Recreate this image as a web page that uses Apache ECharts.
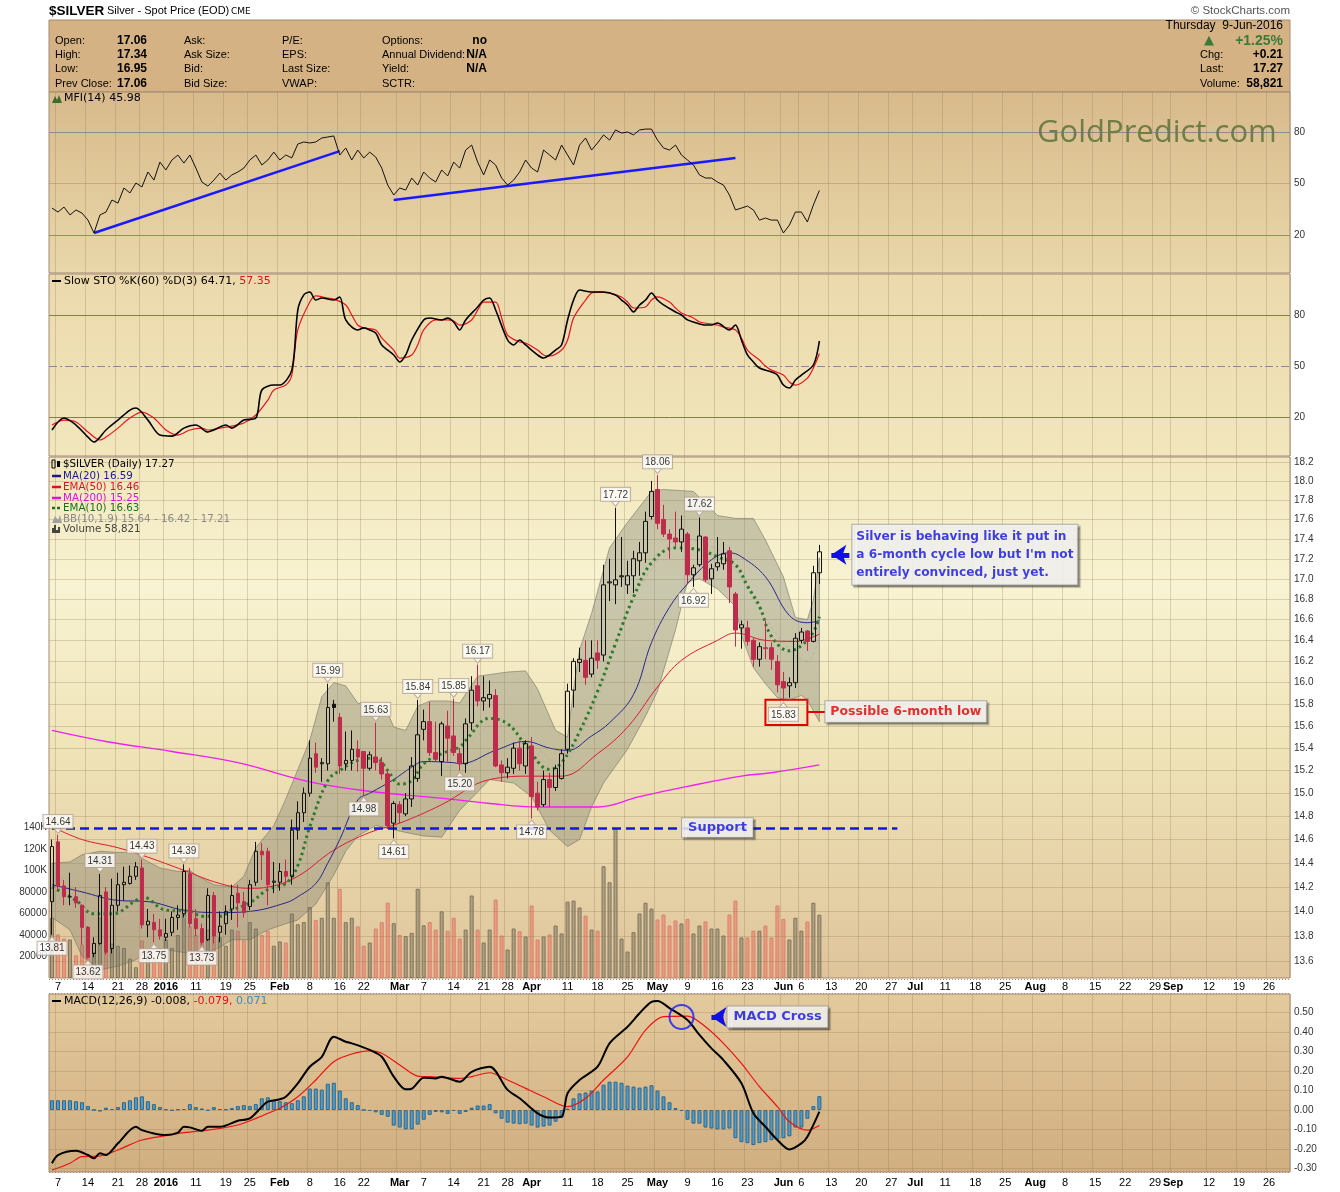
<!DOCTYPE html>
<html><head><meta charset="utf-8">
<script src="https://cdn.jsdelivr.net/npm/echarts@6/dist/echarts.min.js"></script>
<style>html,body{margin:0;padding:0;background:#fff}#c{width:1340px;height:1192px}</style>
</head><body><div id="c"></div>
<script>
// ================= DATA =================
const firstTradingDay = '2015-12-04';
const holidays = ['2015-12-25','2016-01-01','2016-01-18','2016-02-15','2016-03-25','2016-05-30','2016-07-04','2016-09-05'];
const slotCount = 207;
const tickLabels = [
 ['2015-12-07','7'],['2015-12-14','14'],['2015-12-21','21'],['2015-12-28','28'],['2016-01-04','2016',1],['2016-01-11','11'],['2016-01-19','19'],['2016-01-25','25'],
 ['2016-02-01','Feb',1],['2016-02-08','8'],['2016-02-16','16'],['2016-02-22','22'],['2016-03-01','Mar',1],['2016-03-07','7'],['2016-03-14','14'],['2016-03-21','21'],['2016-03-28','28'],
 ['2016-04-01','Apr',1],['2016-04-11','11'],['2016-04-18','18'],['2016-04-25','25'],['2016-05-02','May',1],['2016-05-09','9'],['2016-05-16','16'],['2016-05-23','23'],
 ['2016-06-01','Jun',1],['2016-06-06','6'],['2016-06-13','13'],['2016-06-20','20'],['2016-06-27','27'],['2016-07-01','Jul',1],['2016-07-11','11'],['2016-07-18','18'],['2016-07-25','25'],
 ['2016-08-01','Aug',1],['2016-08-08','8'],['2016-08-15','15'],['2016-08-22','22'],['2016-08-29','29'],['2016-09-01','Sep',1],['2016-09-12','12'],['2016-09-19','19'],['2016-09-26','26']
];
const priceTicks = [13.6,13.8,14.0,14.2,14.4,14.6,14.8,15.0,15.2,15.4,15.6,15.8,16.0,16.2,16.4,16.6,16.8,17.0,17.2,17.4,17.6,17.8,18.0,18.2];
const volumeTicks = [20000,40000,60000,80000,100000,120000,140000];
const macdTicks = [-0.3,-0.2,-0.1,0,0.1,0.2,0.3,0.4,0.5];
const oscTicks = [20,50,80];

// daily [open, high, low, close] from 2015-12-04 to 2016-06-09
const ohlc = [
[14.08,14.60,13.81,14.54],[14.58,14.64,14.17,14.21],[14.21,14.26,14.05,14.12],[14.12,14.32,14.05,14.12],[14.12,14.20,14.03,14.07],
[14.05,14.06,13.73,13.87],[13.87,13.88,13.62,13.63],[13.66,13.79,13.63,13.74],[13.74,14.31,13.73,14.13],[14.16,14.20,13.65,13.67],
[13.70,14.27,13.66,14.05],[14.05,14.32,14.00,14.22],[14.22,14.37,14.09,14.24],[14.23,14.38,14.22,14.29],[14.29,14.41,14.26,14.37],
[14.36,14.43,13.86,13.89],[13.89,14.02,13.79,13.92],[13.91,13.98,13.75,13.85],[13.85,13.94,13.77,13.80],[13.79,13.94,13.76,13.82],
[13.83,14.00,13.80,13.95],[13.95,14.05,13.85,13.97],[13.98,14.39,13.95,14.33],[14.31,14.36,13.87,13.90],[13.94,14.02,13.80,13.86],
[13.86,13.90,13.73,13.75],[13.77,14.19,13.76,14.13],[14.13,14.16,13.74,13.80],[13.83,14.00,13.75,13.88],[13.90,14.05,13.81,14.00],
[14.02,14.22,13.93,14.13],[14.15,14.22,13.87,14.07],[14.08,14.16,13.95,13.99],[14.04,14.26,14.01,14.22],[14.24,14.58,14.21,14.50],
[14.50,14.57,14.26,14.47],[14.50,14.53,14.05,14.22],[14.24,14.41,14.15,14.25],[14.24,14.40,14.17,14.33],[14.33,14.43,14.22,14.29],
[14.29,14.77,14.22,14.68],[14.68,14.93,14.60,14.83],[14.83,15.05,14.75,15.00],[15.00,15.47,14.97,15.31],[15.35,15.45,15.18,15.23],
[15.26,15.31,15.10,15.27],[15.26,15.99,15.20,15.77],[15.80,15.84,15.64,15.77],[15.68,15.72,15.17,15.24],[15.26,15.55,15.20,15.29],
[15.29,15.56,15.20,15.39],[15.39,15.47,15.19,15.32],[15.37,15.37,14.98,15.22],[15.22,15.37,15.20,15.34],[15.32,15.63,15.20,15.27],
[15.27,15.32,15.12,15.17],[15.17,15.20,14.69,14.72],[14.74,14.93,14.61,14.91],[14.90,14.93,14.74,14.83],[14.82,15.00,14.80,14.95],
[14.95,15.32,14.88,15.24],[15.13,15.84,15.10,15.52],[15.57,15.75,15.47,15.64],[15.64,15.82,15.33,15.36],[15.36,15.64,15.28,15.30],
[15.28,15.64,15.15,15.62],[15.60,15.74,15.28,15.49],[15.51,15.85,15.33,15.36],[15.35,15.40,15.20,15.26],[15.26,15.67,15.18,15.62],
[15.63,16.06,15.56,15.93],[15.97,16.17,15.78,15.83],[15.83,16.06,15.74,15.86],[15.85,16.02,15.77,15.89],[15.88,15.94,15.23,15.24],
[15.25,15.29,15.10,15.18],[15.18,15.31,15.13,15.23],[15.22,15.45,15.17,15.40],[15.40,15.47,15.20,15.26],[15.24,15.47,15.17,15.44],
[15.42,15.50,14.78,14.97],[15.00,15.10,14.85,14.88],[14.90,15.20,14.88,15.12],[15.12,15.18,14.88,15.05],[15.05,15.25,15.02,15.22],
[15.13,15.39,15.12,15.35],[15.39,15.99,15.35,15.92],[15.93,16.23,15.77,16.20],[16.19,16.33,16.10,16.22],[16.21,16.40,15.98,16.05],
[16.08,16.40,16.05,16.23],[16.28,16.40,16.13,16.21],[16.26,17.14,16.20,16.94],[16.96,17.20,16.78,16.97],[16.94,17.72,16.75,16.99],
[17.02,17.42,16.92,17.03],[16.94,17.18,16.85,17.03],[17.03,17.28,16.86,17.20],[17.18,17.37,17.03,17.26],[17.26,17.68,17.16,17.58],
[17.63,18.00,17.60,17.89],[17.91,18.06,17.50,17.56],[17.60,17.75,17.42,17.45],[17.45,17.50,17.20,17.40],[17.41,17.68,17.33,17.37],
[17.37,17.64,17.27,17.50],[17.45,17.47,16.95,17.04],[17.04,17.14,16.92,17.11],[17.14,17.62,17.12,17.43],[17.42,17.43,16.97,16.99],
[17.00,17.15,16.85,17.10],[17.12,17.42,17.08,17.16],[17.15,17.37,17.09,17.25],[17.28,17.32,16.76,16.92],[16.85,16.87,16.34,16.50],
[16.52,16.59,16.32,16.55],[16.52,16.59,16.35,16.39],[16.40,16.42,16.15,16.22],[16.22,16.38,16.15,16.34],[16.32,16.59,16.22,16.33],
[16.33,16.38,16.12,16.22],[16.20,16.26,15.91,15.98],[16.01,16.10,15.83,15.95],[15.97,16.05,15.86,16.00],[16.00,16.47,15.95,16.42],
[16.40,16.52,16.37,16.48],[16.49,16.50,16.30,16.39],[16.39,17.13,16.38,17.06],[17.06,17.34,16.95,17.27]
];
const volume = [
56000,40500,36700,35800,21000,31000,48000,24000,56000,42000,32000,30000,28000,18000,10000,35000,26000,18000,16000,36000,
28000,40000,60000,48000,40000,34000,45000,48000,38000,30000,45000,44000,35000,52000,46000,40000,44000,30000,34000,33000,
60000,50000,52000,66000,54000,56000,89000,56000,83000,52000,56000,48000,30000,33000,46000,52000,70000,51000,40000,39000,
42000,83000,49000,52000,45000,62000,44000,56000,36700,45000,76700,45000,33000,45000,73000,39500,26500,46000,43500,38600,
67400,35800,38600,40500,48800,41400,71000,72000,65600,58000,45000,44000,104000,89000,139000,36700,24600,42600,60000,70000,
64600,54400,59000,48800,53500,50700,55000,41400,48800,52600,46000,46000,39500,59000,72000,37700,37700,44000,44000,48800,
37700,67400,55000,35800,56000,44000,52600,70000,58821
];
const mfi = [
35.7,33.4,36.3,31.7,34.6,32.8,28.7,21.2,31.7,33.4,40.4,38.6,47.4,44.5,50.3,48.0,56.7,52.0,62.5,57.9,
63.7,66.6,61.9,66.6,59.0,50.9,48.5,52.0,56.1,52.0,55.0,56.7,59.0,63.7,66.6,60.8,63.7,68.3,63.7,66.6,
64.9,73.0,74.2,73.6,74.2,76.5,77.1,77.7,66.6,70.7,63.7,69.5,64.9,68.3,65.4,59.0,49.1,43.3,47.4,46.2,
53.2,49.1,56.7,53.2,50.9,57.9,54.4,62.5,59.0,69.5,72.4,62.5,55.0,63.7,60.8,53.2,49.1,52.0,56.7,63.7,
59.0,56.7,69.5,66.6,63.7,72.4,66.6,60.8,72.4,76.5,69.5,73.6,78.3,75.3,81.2,79.4,80.0,78.3,81.2,81.7,
81.7,75.3,70.7,69.5,72.4,66.6,63.7,60.8,55.0,53.2,53.2,50.9,49.1,43.3,34.6,35.7,36.9,34.6,28.7,29.9,
28.7,28.7,21.2,25.8,33.4,33.4,27.6,37.5,45.98
];
// [trading-day index, value]
const stoK = [[0,12.4],[2,19.4],[4,15.3],[6,8.2],[7,5.3],[9,12.4],[11,18.2],[13,24.1],[14,25.3],[16,18.2],[18,9.4],[20,8.8],[22,13.5],[24,15.3],[26,11.2],[27,12.4],[29,15.3],[30,13.5],[32,18.2],[34,19.4],[35,35.9],[37,38.8],[38,38.8],[40,47.6],[41,82.9],[42,91.8],[43,93.5],[44,88.8],[45,90.0],[47,88.8],[48,90.6],[49,77.1],[51,71.2],[52,72.4],[53,71.2],[54,69.4],[55,62.4],[57,56.5],[58,52.4],[59,56.5],[60,65.3],[62,77.1],[63,78.2],[65,77.1],[66,78.2],[67,75.9],[68,71.2],[69,77.1],[71,84.7],[72,88.8],[73,90.0],[74,82.9],[76,65.3],[77,62.4],[78,65.3],[79,62.4],[81,56.5],[82,54.7],[83,56.5],[84,59.4],[85,62.4],[86,77.1],[87,88.8],[88,94.7],[90,93.5],[91,93.5],[92,93.5],[94,91.8],[95,88.8],[96,85.9],[97,81.8],[98,85.9],[99,88.8],[100,92.9],[101,88.8],[102,85.9],[104,81.8],[105,80.0],[106,77.1],[107,75.9],[109,74.1],[110,74.1],[111,75.3],[113,71.2],[114,74.1],[115,65.3],[116,56.5],[117,52.4],[118,48.8],[120,46.5],[121,44.7],[122,38.8],[123,37.1],[124,41.8],[125,44.7],[127,50.6],[128,64.71]];
const stoD = [[0,15.3],[2,18.2],[4,17.1],[6,11.2],[8,6.5],[9,8.2],[11,13.5],[13,19.4],[15,22.9],[17,19.4],[19,12.4],[21,9.4],[23,12.4],[25,13.5],[26,12.4],[28,13.5],[30,14.7],[32,16.5],[34,21.2],[36,30.0],[37,35.9],[39,38.8],[40,44.7],[41,71.2],[43,87.6],[44,91.2],[46,90.0],[47,89.4],[49,85.9],[50,80.0],[51,74.1],[52,72.4],[54,71.2],[55,66.5],[57,59.4],[58,54.7],[60,56.5],[61,62.4],[62,71.2],[64,77.1],[66,77.1],[67,76.5],[68,74.1],[70,77.1],[71,82.9],[72,87.6],[74,87.6],[75,78.2],[76,68.2],[78,64.1],[79,63.5],[81,59.4],[82,56.5],[83,55.9],[85,59.4],[86,65.3],[87,78.2],[89,88.8],[90,92.9],[91,93.5],[93,92.9],[95,90.6],[96,87.6],[97,84.1],[99,84.7],[100,88.8],[101,90.6],[103,87.6],[104,84.1],[105,81.2],[107,78.2],[108,75.9],[110,74.7],[111,74.1],[112,72.9],[114,71.2],[115,66.5],[116,59.4],[118,53.5],[119,50.0],[120,47.6],[122,44.7],[123,40.6],[124,38.8],[126,42.9],[127,48.8],[128,57.35]];
const ma200 = [[0,15.56],[9,15.46],[20,15.37],[31,15.27],[43,15.10],[54,15.01],[62,14.97],[68,14.94],[73,14.91],[81,14.88],[88,14.88],[91,14.88],[98,14.97],[106,15.06],[115,15.15],[120,15.18],[128,15.25]];
const ema50 = [[0,14.71],[5,14.60],[11,14.53],[16,14.45],[22,14.34],[28,14.23],[33,14.19],[36,14.20],[41,14.29],[47,14.51],[53,14.66],[58,14.74],[65,14.90],[73,15.12],[80,15.15],[85,15.15],[91,15.35],[96,15.59],[101,15.96],[105,16.21],[111,16.40],[114,16.47],[119,16.40],[124,16.39],[128,16.46]];
const ma20 = [[0,14.22],[5,14.16],[11,14.09],[16,14.08],[22,14.01],[28,13.99],[33,14.00],[39,14.07],[41,14.12],[44,14.23],[46,14.40],[48,14.60],[51,14.94],[53,15.00],[57,15.12],[60,15.23],[62,15.28],[67,15.27],[68,15.26],[74,15.38],[79,15.46],[83,15.40],[86,15.38],[90,15.51],[93,15.63],[97,15.89],[100,16.38],[103,16.72],[106,16.95],[110,17.19],[113,17.26],[115,17.22],[119,17.02],[123,16.64],[126,16.57],[128,16.59]];
const ema10 = [[0,14.20],[4,14.09],[7,13.98],[10,13.98],[14,14.09],[15,14.12],[19,14.01],[23,14.00],[25,13.96],[28,13.96],[30,14.01],[33,14.07],[36,14.18],[39,14.23],[41,14.38],[43,14.71],[46,15.11],[48,15.20],[51,15.29],[54,15.31],[56,15.20],[58,15.08],[60,15.11],[62,15.26],[65,15.35],[68,15.41],[69,15.47],[73,15.67],[76,15.62],[79,15.43],[83,15.21],[85,15.27],[88,15.55],[91,15.92],[94,16.37],[97,16.82],[100,17.16],[104,17.31],[108,17.29],[111,17.22],[114,17.14],[116,16.93],[118,16.73],[120,16.44],[123,16.30],[125,16.35],[127,16.48],[128,16.63]];
const bbUpper = [[0,14.40],[3,14.41],[5,14.47],[8,14.50],[11,14.49],[14,14.49],[15,14.44],[18,14.36],[21,14.33],[23,14.34],[24,14.30],[27,14.22],[30,14.20],[32,14.29],[34,14.53],[37,14.72],[39,14.95],[43,15.47],[45,15.87],[47,16.00],[49,15.97],[51,15.81],[54,15.78],[56,15.72],[57,15.59],[59,15.56],[61,15.78],[63,15.83],[66,15.83],[68,15.81],[71,16.06],[76,16.10],[79,16.11],[81,15.94],[84,15.56],[86,15.50],[87,15.94],[88,16.31],[90,16.66],[93,17.31],[96,17.57],[100,17.89],[102,17.91],[107,17.89],[111,17.64],[114,17.61],[117,17.61],[119,17.39],[122,17.02],[124,16.62],[126,16.60],[127,16.79],[128,17.21]];
const bbLower = [[0,13.95],[3,13.85],[5,13.64],[8,13.53],[11,13.56],[14,13.61],[16,13.69],[19,13.69],[23,13.66],[25,13.65],[28,13.71],[30,13.77],[33,13.77],[36,13.85],[39,13.90],[41,13.93],[44,14.06],[47,14.30],[49,14.50],[51,14.63],[54,14.72],[59,14.66],[62,14.63],[65,14.62],[68,14.85],[73,15.12],[77,15.09],[80,14.97],[83,14.68],[86,14.54],[88,14.60],[90,14.88],[92,15.09],[96,15.39],[99,15.69],[101,15.92],[104,16.50],[106,16.97],[108,17.00],[111,16.90],[114,16.73],[115,16.45],[117,16.14],[119,15.99],[121,15.86],[123,15.84],[125,15.88],[126,15.84],[128,15.64]];
const bbMid = [[0,14.17],[5,14.05],[10,14.02],[15,14.07],[20,14.0],[25,13.91],[30,13.99],[35,14.16],[40,14.32],[43,14.55],[46,14.9],[49,15.2],[52,15.25],[55,15.25],[58,15.13],[61,15.15],[64,15.2],[67,15.25],[70,15.45],[73,15.6],[76,15.6],[79,15.5],[82,15.35],[85,15.22],[88,15.5],[91,15.85],[94,16.35],[97,16.8],[100,17.1],[103,17.35],[106,17.4],[109,17.35],[112,17.25],[115,17.0],[118,16.7],[121,16.45],[124,16.25],[126,16.2],[128,16.42]];
const macdLine = [[0,-0.273],[1,-0.231],[4,-0.209],[6,-0.231],[7,-0.248],[8,-0.222],[9,-0.231],[11,-0.171],[14,-0.086],[15,-0.103],[17,-0.12],[19,-0.128],[21,-0.116],[22,-0.086],[23,-0.089],[25,-0.106],[26,-0.086],[28,-0.086],[31,-0.055],[33,-0.043],[35,0.017],[36,0.043],[38,0.055],[39,0.068],[41,0.137],[43,0.222],[45,0.273],[47,0.376],[49,0.350],[50,0.342],[53,0.308],[55,0.273],[57,0.171],[59,0.106],[60,0.109],[62,0.166],[64,0.162],[65,0.171],[68,0.145],[70,0.196],[73,0.222],[76,0.103],[78,0.06],[81,-0.017],[83,-0.039],[85,-0.034],[86,0.086],[88,0.154],[91,0.222],[93,0.342],[96,0.427],[98,0.496],[100,0.555],[101,0.559],[103,0.523],[106,0.462],[108,0.385],[110,0.316],[112,0.256],[115,0.137],[117,-0.017],[119,-0.086],[121,-0.154],[123,-0.202],[125,-0.171],[126,-0.137],[128,-0.008]];
const macdSignal = [[0,-0.308],[3,-0.273],[5,-0.239],[8,-0.236],[11,-0.205],[15,-0.154],[19,-0.132],[22,-0.116],[27,-0.099],[31,-0.077],[34,-0.043],[36,-0.017],[38,0.009],[41,0.068],[44,0.154],[47,0.248],[50,0.287],[53,0.303],[55,0.291],[58,0.231],[61,0.174],[63,0.171],[68,0.162],[70,0.171],[73,0.191],[76,0.154],[79,0.111],[82,0.068],[86,0.017],[89,0.06],[92,0.154],[96,0.273],[99,0.41],[102,0.479],[106,0.482],[109,0.427],[112,0.342],[115,0.239],[118,0.12],[121,0.017],[123,-0.06],[126,-0.103],[128,-0.079]];
const macdHist = [
0.05,0.05,0.05,0.05,0.045,0.04,0.02,0.0,-0.008,0.012,0.005,0.015,0.04,0.05,0.065,0.07,0.045,0.03,0.015,0.003,
-0.003,0.003,0.005,0.03,0.015,0.008,-0.003,0.015,0.005,0.003,0.01,0.02,0.025,0.02,0.03,0.06,0.065,0.05,0.045,0.04,
0.035,0.05,0.07,0.11,0.11,0.105,0.135,0.14,0.1,0.06,0.04,0.025,0.0,-0.005,-0.012,-0.025,-0.035,-0.08,-0.09,-0.1,
-0.1,-0.075,-0.05,-0.025,-0.01,-0.012,-0.02,-0.005,-0.02,-0.01,0.012,0.023,0.023,0.03,-0.017,-0.045,-0.065,-0.07,-0.073,-0.07,
-0.08,-0.09,-0.085,-0.08,-0.06,-0.04,0.007,0.06,0.085,0.09,0.1,0.095,0.13,0.145,0.145,0.14,0.125,0.12,0.115,0.12,
0.127,0.1,0.07,0.04,0.01,-0.005,-0.05,-0.07,-0.07,-0.09,-0.095,-0.1,-0.1,-0.095,-0.145,-0.165,-0.17,-0.18,-0.17,-0.165,
-0.155,-0.15,-0.145,-0.135,-0.09,-0.09,-0.045,0.02,0.071
];
const highLabels = [[1,14.64],[8,14.31],[15,14.43],[22,14.39],[46,15.99],[54,15.63],[61,15.84],[67,15.85],[71,16.17],[94,17.72],[101,18.06],[108,17.62]];
const lowLabels = [[0,13.81],[6,13.62],[17,13.75],[25,13.73],[52,14.98],[57,14.61],[68,15.20],[80,14.78],[107,16.92],[122,15.83]];
const supportLevel = 14.70;
const mfiTrend1 = [[7,21.2],[48,68.9]];
const mfiTrend2 = [[57,40.4],[114,64.9]];
const noteLines = ['Silver is behaving like it put in','a 6-month cycle low but I\'m not','entirely convinced, just yet.'];

// ================= BUILD =================
const cats = (function(){
  const out=[]; const p=firstTradingDay.split('-').map(Number);
  const d=new Date(Date.UTC(p[0],p[1]-1,p[2]));
  while(out.length<slotCount){
    const wd=d.getUTCDay(); const s=d.toISOString().slice(0,10);
    if(wd!==0&&wd!==6&&holidays.indexOf(s)<0) out.push(s);
    d.setUTCDate(d.getUTCDate()+1);
  }
  return out;
})();
const tickMap={}; tickLabels.forEach(t=>{tickMap[t[0]]=t[2]?'{b|'+t[1]+'}':t[1];});
const isTick=(i,v)=>Object.prototype.hasOwnProperty.call(tickMap,v);
const toCat=a=>a.map(p=>[cats[p[0]],p[1]]);
const RED='#bd2d4b', BLK='#111';
const candleData = ohlc.map((d,i)=>{
  const o=d[0],h=d[1],l=d[2],c=d[3]; const prev=i?ohlc[i-1][3]:o;
  const col=c<prev?RED:BLK; const fill=c>=o?'rgba(0,0,0,0)':col;
  return {value:[o,c,l,h], itemStyle:{color:fill,color0:fill,borderColor:col,borderColor0:col,borderColorDoji:col}};
});
const volData = volume.map((v,i)=>{
  const red = i>0 && ohlc[i][3]<ohlc[i-1][3];
  return {value:v, itemStyle:{color:red?'rgba(236,128,104,0.62)':'rgba(146,134,108,0.62)', borderColor:red?'#d9826e':'#7f745e', borderWidth:1}};
});
const FONT='"Liberation Sans", Arial, sans-serif';
const VFONT='"DejaVu Sans", Verdana, sans-serif';
const boxLabel = {backgroundColor:'#fff', borderColor:'#9a9a9a', borderWidth:1, shadowColor:'rgba(0,0,0,0.35)', shadowOffsetX:2, shadowOffsetY:2, shadowBlur:1, fontFamily:VFONT, fontWeight:'bold'};
const tagStyle = {show:true, backgroundColor:'#fff', borderColor:'#b3a190', borderWidth:1, padding:[2,2,1,2], fontSize:10, color:'#000', fontFamily:FONT};
const hiLoData = highLabels.map(p=>({value:[cats[p[0]],p[1]], symbol:'triangle', symbolRotate:180, symbolSize:[8,5], symbolOffset:[0,-4], label:Object.assign({position:'top',distance:0,formatter:p[1].toFixed(2)},tagStyle)}))
 .concat(lowLabels.map(p=>({value:[cats[p[0]],p[1]], symbol:'triangle', symbolSize:[8,5], symbolOffset:[0,4], label:Object.assign({position:'bottom',distance:0,formatter:p[1].toFixed(2)},tagStyle)})));

function xAx(g, show, margin){
  return {type:'category', gridIndex:g, data:cats, boundaryGap:true,
    axisLine:{show:false}, axisTick:{show:false},
    axisLabel:{show:show, interval:isTick, formatter:v=>tickMap[v]||'', fontSize:11, color:'#000', fontFamily:FONT, margin:margin,
      rich:{b:{fontWeight:'bold', fontSize:11, color:'#000', fontFamily:FONT}}},
    splitLine:{show:true, interval:isTick, lineStyle:{color:'rgba(140,118,84,0.28)', width:1}}};
}
function yAx(g, opts){
  return Object.assign({gridIndex:g, position:'right', axisLine:{show:false}, axisTick:{show:false}, splitLine:{show:false}}, opts);
}
const lab = (vals, fmt)=>({customValues:vals, formatter:fmt, fontSize:10, color:'#333', fontFamily:FONT, margin:4});
const hline = (v, color, type, w)=>({yAxis:v, lineStyle:{color:color, type:type||'solid', width:w||1}});
const gridStyle={show:true, borderColor:'#a38a72', borderWidth:1, backgroundColor:'rgba(0,0,0,0)'};
const LG=(stops)=>new echarts.graphic.LinearGradient(0,0,0,1,stops.map(c=>({offset:c[0],color:c[1]})));

function T(x,y,text,font,fill,align,extra){
  return {type:'text', z:100, x:x, y:y, silent:true, style:Object.assign({text:text, font:font, fill:fill||'#000', align:align||'left', verticalAlign:'middle', textAlign:align||'left', textVerticalAlign:'middle'}, extra||{})};
}
const HF='11px '+FONT, HB='bold 12px '+FONT;
const graphics = [
  {type:'rect', z:-10, silent:true, shape:{x:49,y:20,width:1241,height:72}, style:{fill:'#d4b283', stroke:'#a38a72'}},
  {type:'rect', z:-10, silent:true, shape:{x:49,y:92,width:1241,height:181}, style:{fill:LG([[0,'#d8ba8b'],[1,'#e9d7a9']])}},
  {type:'rect', z:-10, silent:true, shape:{x:49,y:274,width:1241,height:182}, style:{fill:LG([[0,'#ebd9ac'],[1,'#f2e6bc']])}},
  {type:'rect', z:-10, silent:true, shape:{x:49,y:457,width:1241,height:521}, style:{fill:LG([[0,'#f2e7bd'],[0.25,'#f8f3d2'],[0.55,'#f0e4b9'],[1,'#dfc49a']])}},
  {type:'rect', z:-10, silent:true, shape:{x:49,y:994,width:1241,height:178}, style:{fill:LG([[0,'#e3ca9d'],[1,'#d0ae80']])}},
  {type:'line', z:5, silent:true, shape:{x1:49,y1:979.5,x2:1290,y2:979.5}, style:{stroke:'#a38a72', lineDash:[1,2]}},
  {type:'line', z:5, silent:true, shape:{x1:49,y1:993.5,x2:1290,y2:993.5}, style:{stroke:'#a38a72', lineDash:[1,2]}},
  {type:'line', z:5, silent:true, shape:{x1:49,y1:1172.5,x2:1290,y2:1172.5}, style:{stroke:'#a38a72', lineDash:[1,2]}},
  // title
  T(49,11,'$SILVER','bold 13.5px '+FONT,'#000'),
  T(107,11,'Silver - Spot Price (EOD)','11px '+FONT,'#000'),
  T(231,12,'CME','9px '+VFONT,'#000'),
  T(1290,11,'\u00a9 StockCharts.com','11.5px '+FONT,'#555','right'),
  // header rows
  T(55,41,'Open:',HF), T(55,55,'High:',HF), T(55,69,'Low:',HF), T(55,84,'Prev Close:',HF),
  T(117,41,'17.06',HB), T(117,55,'17.34',HB), T(117,69,'16.95',HB), T(117,84,'17.06',HB),
  T(184,41,'Ask:',HF), T(184,55,'Ask Size:',HF), T(184,69,'Bid:',HF), T(184,84,'Bid Size:',HF),
  T(282,41,'P/E:',HF), T(282,55,'EPS:',HF), T(282,69,'Last Size:',HF), T(282,84,'VWAP:',HF),
  T(382,41,'Options:',HF), T(382,55,'Annual Dividend:',HF), T(382,69,'Yield:',HF), T(382,84,'SCTR:',HF),
  T(487,41,'no',HB,'#000','right'), T(487,55,'N/A',HB,'#000','right'), T(487,69,'N/A',HB,'#000','right'),
  T(1283,26,'Thursday  9-Jun-2016','12px '+FONT,'#000','right'),
  T(1209,41,'\u25B2','13px '+VFONT,'#3b7a3b','center'),
  T(1283,41,'+1.25%','bold 14px '+FONT,'#3b7a3b','right'),
  T(1200,55,'Chg:',HF), T(1283,55,'+0.21',HB,'#000','right'),
  T(1200,69,'Last:',HF), T(1283,69,'17.27',HB,'#000','right'),
  T(1200,84,'Volume:',HF), T(1283,84,'58,821',HB,'#000','right'),
  // watermark
  T(1037,133,'GoldPredict.com','31px "Open Sans", '+FONT,'#6f7d47'),
  // panel labels
  {type:'polygon', z:100, silent:true, shape:{points:[[52,103],[55,96],[57,100],[59,95],[62,103]]}, style:{fill:'#3d6b2f'}},
  T(64,98,'MFI(14) 45.98','11px '+VFONT,'#000'),
  {type:'line', z:100, silent:true, shape:{x1:52,y1:281,x2:61,y2:281}, style:{stroke:'#000',lineWidth:2}},
  T(64,281,'{a|Slow STO %K(60) %D(3) 64.71, }{r|57.35}','11px '+VFONT,'#000','left',{rich:{a:{fill:'#000',color:'#000',font:'11px '+VFONT},r:{fill:'#e0101a',color:'#e0101a',font:'11px '+VFONT}}}),
  {type:'line', z:100, silent:true, shape:{x1:52,y1:1001,x2:61,y2:1001}, style:{stroke:'#000',lineWidth:2}},
  T(64,1001,'{a|MACD(12,26,9) -0.008, }{r|-0.079, }{b|0.071}','11px '+VFONT,'#000','left',{rich:{a:{fill:'#000',color:'#000',font:'11px '+VFONT},r:{fill:'#e0101a',color:'#e0101a',font:'11px '+VFONT},b:{fill:'#3a8cc4',color:'#3a8cc4',font:'11px '+VFONT}}})
];
const legendRows = [
 ['$SILVER (Daily) 17.27','#000','candle'],['MA(20) 16.59','#1a1a8c','line'],['EMA(50) 16.46','#e0102a','line'],
 ['MA(200) 15.25','#e010e0','line'],['EMA(10) 16.63','#1e6e1e','dash'],['BB(10,1.9) 15.64 - 16.42 - 17.21','#8a8a8a','mount'],['Volume 58,821','#444','vol']
];
const legendY=[464,476,487,498,508,519,529];
legendRows.forEach((r,k)=>{
  const y=legendY[k];
  if(r[2]==='line'||r[2]==='dash') graphics.push({type:'line',z:100,silent:true,shape:{x1:52,y1:y,x2:61,y2:y},style:{stroke:r[1],lineWidth:2.5,lineDash:r[2]==='dash'?[3,2]:null}});
  else if(r[2]==='mount') graphics.push({type:'polygon',z:100,silent:true,shape:{points:[[52,y+4],[55,y-3],[58,y+1],[60,y-4],[62,y+4]]},style:{fill:'#a0a0a0'}});
  else if(r[2]==='vol') graphics.push({type:'polygon',z:100,silent:true,shape:{points:[[52,y+4],[52,y-1],[54,y-1],[54,y-4],[56,y-4],[56,y+1],[58,y+1],[58,y-2],[60,y-2],[60,y+4]]},style:{fill:'#444'}});
  else graphics.push({type:'polygon',z:100,silent:true,shape:{points:[[52,y-4],[55,y-4],[55,y+4],[52,y+4]]},style:{fill:'none',stroke:'#000'}},{type:'rect',z:100,silent:true,shape:{x:57,y:y-3,width:3,height:6},style:{fill:'#000'}});
  graphics.push(T(63,y,r[0],'10.3px '+VFONT,r[1]));
});

const option = {
  animation:false,
  backgroundColor:'#fff',
  grid:[
    Object.assign({left:49,top:92,width:1241,height:181},gridStyle),
    Object.assign({left:49,top:274,width:1241,height:182},gridStyle),
    Object.assign({left:49,top:457,width:1241,height:521},gridStyle),
    Object.assign({left:49,top:994,width:1241,height:178},gridStyle)
  ],
  xAxis:[xAx(0,false,2), xAx(1,false,2), xAx(2,true,3), xAx(3,true,5)],
  yAxis:[
    yAx(0,{min:-2.1,max:103.3,axisLabel:lab(oscTicks,v=>String(Math.round(v)))}),
    yAx(1,{min:-2.9,max:104.1,axisLabel:lab(oscTicks,v=>String(Math.round(v)))}),
    yAx(2,{type:'log',logBase:10,min:13.466,max:18.253,axisLabel:lab(priceTicks,v=>(+v).toFixed(1))}),
    yAx(2,{position:'left',min:0,max:484600,axisLabel:Object.assign(lab(volumeTicks,v=>v>=100000?(v/1000)+'K':String(v)),{margin:2})}),
    yAx(3,{min:-0.318,max:0.595,axisLabel:lab(macdTicks,v=>(+v).toFixed(2))})
  ],
  graphic:{elements:graphics},
  series:[
    {name:'MFI', type:'line', xAxisIndex:0, yAxisIndex:0, data:mfi, symbol:'none', lineStyle:{color:'#111',width:1}, z:5,
      markLine:{silent:true, symbol:'none', label:{show:false},
        data:[hline(80,'#8c8c8c'),hline(50,'rgba(140,118,84,0.35)'),hline(20,'#8c8c8c'),
          [{coord:[cats[mfiTrend1[0][0]],mfiTrend1[0][1]],lineStyle:{color:'#1a1aff',width:2.5,type:'solid'}},{coord:[cats[mfiTrend1[1][0]],mfiTrend1[1][1]]}],
          [{coord:[cats[mfiTrend2[0][0]],mfiTrend2[0][1]],lineStyle:{color:'#1a1aff',width:2.5,type:'solid'}},{coord:[cats[mfiTrend2[1][0]],mfiTrend2[1][1]]}]]}},
    {name:'%K', type:'line', xAxisIndex:1, yAxisIndex:1, data:toCat(stoK), symbol:'none', smooth:0.3, lineStyle:{color:'#000',width:1.6}, z:6,
      markLine:{silent:true, symbol:'none', label:{show:false},
        data:[hline(80,'#7a7a7a'),hline(50,'#8a8a8a',[8,3,2,3]),hline(20,'#7a7a7a')]}},
    {name:'%D', type:'line', xAxisIndex:1, yAxisIndex:1, data:toCat(stoD), symbol:'none', smooth:0.3, lineStyle:{color:'#e8141e',width:1.2}, z:5},
    {name:'grid', type:'line', xAxisIndex:2, yAxisIndex:2, data:[[cats[0],16]], symbol:'none', lineStyle:{opacity:0}, z:0,
      markLine:{silent:true, symbol:'none', label:{show:false}, data:priceTicks.map(v=>hline(v,'rgba(140,118,84,0.28)'))}},
    {name:'Volume', type:'bar', xAxisIndex:2, yAxisIndex:3, data:volData, barWidth:4, z:1},
    {name:'BB', type:'custom', xAxisIndex:2, yAxisIndex:2, data:[[0,16]], z:2, silent:true,
      renderItem:function(params, api){
        const pts = bbUpper.map(p=>api.coord([p[0],p[1]])).concat(bbLower.slice().reverse().map(p=>api.coord([p[0],p[1]])));
        return {type:'polygon', shape:{points:pts}, style:{fill:'rgba(118,122,108,0.36)', stroke:'rgba(105,108,96,0.55)', lineWidth:1}};
      }},
    {name:'BBmid', type:'line', xAxisIndex:2, yAxisIndex:2, data:toCat(bbMid), symbol:'none', smooth:0.3, lineStyle:{color:'#b4b4a8',width:1,type:[3,3]}, z:3},
    {name:'MA200', type:'line', xAxisIndex:2, yAxisIndex:2, data:toCat(ma200), symbol:'none', smooth:0.4, lineStyle:{color:'#f020f0',width:1.4}, z:3},
    {name:'EMA50', type:'line', xAxisIndex:2, yAxisIndex:2, data:toCat(ema50), symbol:'none', smooth:0.4, lineStyle:{color:'#dd1a32',width:1}, z:3},
    {name:'MA20', type:'line', xAxisIndex:2, yAxisIndex:2, data:toCat(ma20), symbol:'none', smooth:0.4, lineStyle:{color:'#26268a',width:1}, z:3},
    {name:'EMA10', type:'line', xAxisIndex:2, yAxisIndex:2, data:toCat(ema10), symbol:'none', smooth:0.4, lineStyle:{color:'#2a7a2a',width:3,type:[2.5,3.5]}, z:3},
    {name:'Price', type:'candlestick', xAxisIndex:2, yAxisIndex:2, data:candleData, barWidth:4, z:6},
    {name:'HiLo', type:'scatter', xAxisIndex:2, yAxisIndex:2, data:hiLoData, itemStyle:{color:'#fff', borderColor:'#b3a190', borderWidth:1}, z:8, silent:true},
    {name:'Notes', type:'scatter', xAxisIndex:2, yAxisIndex:2, z:12, silent:true,
      data:[
        {value:[cats[111],supportLevel], symbolSize:0, label:Object.assign({show:true, position:'inside', formatter:'Support', color:'#1212dd', fontSize:13, padding:[3,6]},boxLabel)},
        {value:[cats[133],17.24], symbolSize:0, label:Object.assign({show:true, position:'right', distance:3, formatter:noteLines.join('\n'), color:'#1212dd', fontSize:12.2, lineHeight:18, padding:[3,4], align:'left'},boxLabel)},
        {value:[cats[129],15.73], symbolSize:0, label:Object.assign({show:true, position:'right', distance:0, formatter:'Possible 6-month low', color:'#e00000', fontSize:12.5, padding:[4,5]},boxLabel)}
      ],
      markLine:{silent:true, symbol:'none', label:{show:false}, data:[
        [{coord:[cats[0],supportLevel],lineStyle:{color:'#1414e6',width:2.5,type:[9,5]}},{coord:[cats[141],supportLevel]}],
        [{coord:[cats[133],17.24],symbol:'none',lineStyle:{color:'#1010e6',width:5,type:'solid'}},{coord:[cats[130],17.24],symbol:'arrow',symbolSize:[15,15]}],
        [{coord:[cats[126],15.73],lineStyle:{color:'#e00000',width:2,type:'solid'}},{coord:[cats[129],15.73]}]
      ]},
      markArea:{silent:true, data:[[{coord:[cats[119],15.84], itemStyle:{color:'rgba(0,0,0,0)', borderColor:'#e00000', borderWidth:2}},{coord:[cats[126],15.61]}]]}},
    {name:'Hist', type:'bar', xAxisIndex:3, yAxisIndex:4, data:macdHist, barWidth:4, itemStyle:{color:'#4f9ccb', borderColor:'#2a6790', borderWidth:1}, z:2,
      markLine:{silent:true, symbol:'none', label:{show:false}, data:macdTicks.map(v=>hline(v,'rgba(140,110,70,0.25)'))}},
    {name:'MACD', type:'line', xAxisIndex:3, yAxisIndex:4, data:toCat(macdLine), symbol:'none', smooth:0.3, lineStyle:{color:'#000',width:2}, z:5},
    {name:'Signal', type:'line', xAxisIndex:3, yAxisIndex:4, data:toCat(macdSignal), symbol:'none', smooth:0.3, lineStyle:{color:'#ee1111',width:1.2}, z:4},
    {name:'MacdNotes', type:'scatter', xAxisIndex:3, yAxisIndex:4, z:12, silent:true,
      data:[
        {value:[cats[105],0.477], symbol:'circle', symbolSize:24, itemStyle:{color:'rgba(0,0,0,0)', borderColor:'#1a1aff', borderWidth:2}},
        {value:[cats[112],0.477], symbolSize:0, label:Object.assign({show:true, position:'right', distance:4, formatter:'MACD Cross', color:'#1212dd', fontSize:13, padding:[4,6]},boxLabel)}
      ],
      markLine:{silent:true, symbol:'none', label:{show:false}, data:[
        [{coord:[cats[112],0.477],symbol:'none',lineStyle:{color:'#1010e6',width:5,type:'solid'}},{coord:[cats[110],0.477],symbol:'arrow',symbolSize:[15,15]}]
      ]}}
  ]
};
const chart = echarts.init(document.getElementById('c'), null, {renderer:'canvas'});
chart.setOption(option);
</script>
</body></html>
